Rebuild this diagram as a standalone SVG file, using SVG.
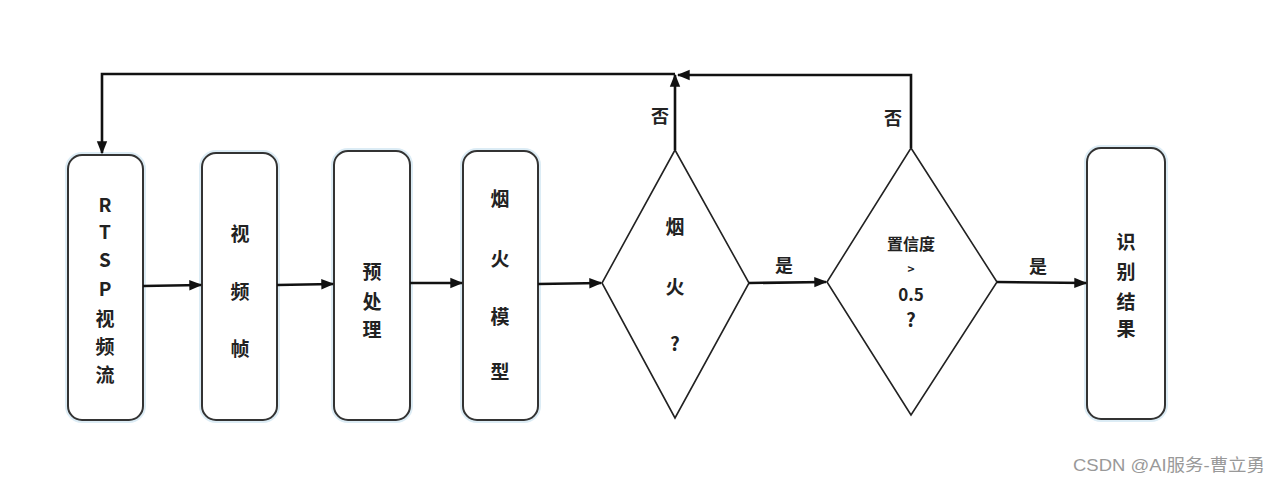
<svg xmlns="http://www.w3.org/2000/svg" width="1280" height="483" viewBox="0 0 1280 483">
<defs>
<marker id="ah" viewBox="0 0 10 10" refX="9" refY="5" markerWidth="5" markerHeight="5" orient="auto" markerUnits="strokeWidth">
<path d="M0,1 L10,5 L0,9 Z" fill="#111"/>
</marker>
<style>
.glow{fill:none;stroke:#dcecf5;stroke-width:6}
.box{fill:#fff;stroke:#333;stroke-width:2}
.dia{fill:#fff;stroke:#222;stroke-width:1.6}
.t{font-family:"Noto Sans CJK SC","Liberation Sans",sans-serif;font-weight:bold;font-size:19px;fill:#222;text-anchor:middle;dominant-baseline:central}
.s{font-size:16px}
.c{fill:none;stroke:#111;stroke-width:2.6}
.lbl{font-family:"Noto Sans CJK SC",sans-serif;font-weight:bold;font-size:18px;fill:#222;text-anchor:middle;dominant-baseline:central}
.wm{font-family:"Liberation Sans","Noto Sans CJK SC",sans-serif;font-size:17px;fill:#999}
</style>
</defs>
<rect width="1280" height="483" fill="#fff"/>
<g id="n1">
<rect class="glow" x="68" y="155" width="75" height="265" rx="14"/>
<rect class="box" x="68" y="155" width="75" height="265" rx="14"/>
<text class="t" x="105" y="203">R</text>
<text class="t" x="105" y="230">T</text>
<text class="t" x="105" y="258">S</text>
<text class="t" x="105" y="287">P</text>
<text class="t" x="105" y="317">视</text>
<text class="t" x="105" y="345">频</text>
<text class="t" x="105" y="373">流</text>
</g>
<g id="n2">
<rect class="glow" x="202" y="153" width="75" height="267" rx="14"/>
<rect class="box" x="202" y="153" width="75" height="267" rx="14"/>
<text class="t" x="240" y="232">视</text>
<text class="t" x="240" y="290">频</text>
<text class="t" x="240" y="347">帧</text>
</g>
<g id="n3">
<rect class="glow" x="334" y="151" width="76" height="269" rx="14"/>
<rect class="box" x="334" y="151" width="76" height="269" rx="14"/>
<text class="t" x="372" y="270">预</text>
<text class="t" x="372" y="300">处</text>
<text class="t" x="372" y="328">理</text>
</g>
<g id="n4">
<rect class="glow" x="463" y="151" width="75" height="269" rx="14"/>
<rect class="box" x="463" y="151" width="75" height="269" rx="14"/>
<text class="t" x="500" y="197">烟</text>
<text class="t" x="500" y="257">火</text>
<text class="t" x="500" y="315">模</text>
<text class="t" x="500" y="370">型</text>
</g>
<g id="d1">
<polygon class="dia" points="675,150 749,283 675,418 602,283"/>
<text class="t" x="675" y="225">烟</text>
<text class="t" x="675" y="285">火</text>
<text class="t" x="675" y="342">?</text>
</g>
<g id="d2">
<polygon class="dia" points="911,148 997,282 911,415 827,282"/>
<text class="t s" x="911" y="243">置信度</text>
<text class="t s" x="911" y="268" style="font-size:12px">&gt;</text>
<text class="t" x="911" y="293" style="font-size:17px">0.5</text>
<text class="t" x="911" y="318">?</text>
</g>
<g id="n5">
<rect class="glow" x="1087" y="148" width="78" height="271" rx="14"/>
<rect class="box" x="1087" y="148" width="78" height="271" rx="14"/>
<text class="t" x="1126" y="240">识</text>
<text class="t" x="1126" y="270">别</text>
<text class="t" x="1126" y="300">结</text>
<text class="t" x="1126" y="327">果</text>
</g>
<g id="connectors">
<line class="c" x1="143" y1="286" x2="201" y2="285" marker-end="url(#ah)"/>
<line class="c" x1="277" y1="285" x2="333" y2="284" marker-end="url(#ah)"/>
<line class="c" x1="410" y1="283" x2="462" y2="283" marker-end="url(#ah)"/>
<line class="c" x1="538" y1="284" x2="601" y2="283" marker-end="url(#ah)"/>
<line class="c" x1="749" y1="283" x2="826" y2="282" marker-end="url(#ah)"/>
<line class="c" x1="997" y1="282" x2="1086" y2="283" marker-end="url(#ah)"/>
<line class="c" x1="675" y1="150" x2="675" y2="75" marker-end="url(#ah)"/>
<polyline class="c" points="911,148 911,75 678,75" marker-end="url(#ah)"/>
<polyline class="c" points="675,74 102,74 102,153" marker-end="url(#ah)"/>
<text class="lbl" x="660" y="115">否</text>
<text class="lbl" x="893" y="117">否</text>
<text class="lbl" x="784" y="264">是</text>
<text class="lbl" x="1038" y="265">是</text>
</g>
<text class="wm" x="1073" y="471" textLength="192" lengthAdjust="spacingAndGlyphs">CSDN @AI服务-曹立勇</text>
</svg>
